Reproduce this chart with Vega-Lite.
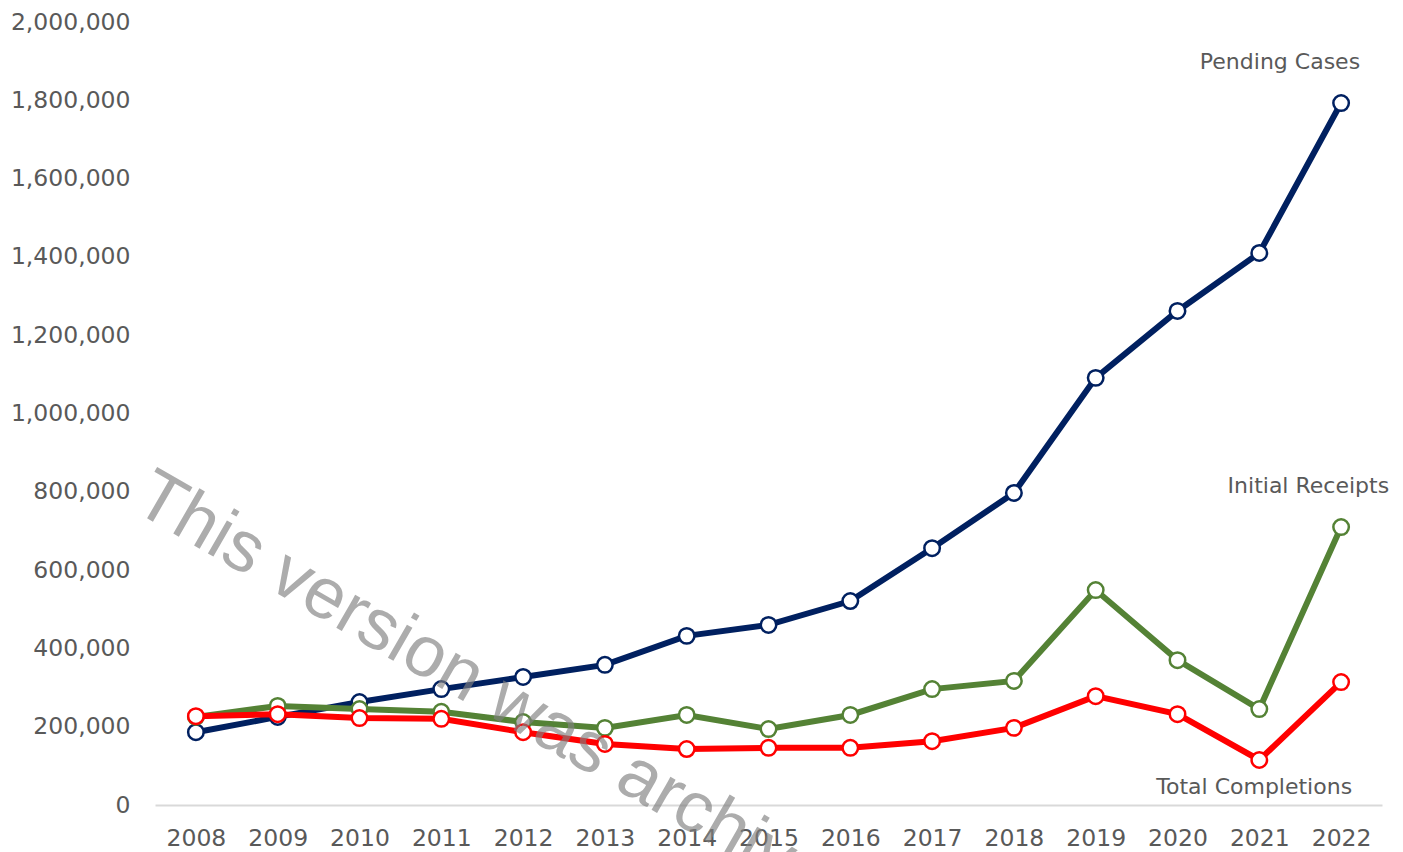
{
  "$schema": "https://vega.github.io/schema/vega-lite/v6.json",
  "autosize": {"type": "none"},
  "width": 1227,
  "height": 783,
  "padding": {"left": 155, "top": 22, "right": 21, "bottom": 47},
  "background": "white",
  "config": {
    "view": {"stroke": null},
    "font": "DejaVu Sans"
  },
  "data": {
    "values": [
      {"year": "2008", "series": "Pending Cases", "value": 186000},
      {"year": "2009", "series": "Pending Cases", "value": 225000},
      {"year": "2010", "series": "Pending Cases", "value": 263000},
      {"year": "2011", "series": "Pending Cases", "value": 296000},
      {"year": "2012", "series": "Pending Cases", "value": 327000},
      {"year": "2013", "series": "Pending Cases", "value": 358000},
      {"year": "2014", "series": "Pending Cases", "value": 432000},
      {"year": "2015", "series": "Pending Cases", "value": 460000},
      {"year": "2016", "series": "Pending Cases", "value": 521000},
      {"year": "2017", "series": "Pending Cases", "value": 656000},
      {"year": "2018", "series": "Pending Cases", "value": 797000},
      {"year": "2019", "series": "Pending Cases", "value": 1091000},
      {"year": "2020", "series": "Pending Cases", "value": 1262000},
      {"year": "2021", "series": "Pending Cases", "value": 1410000},
      {"year": "2022", "series": "Pending Cases", "value": 1793000},
      {"year": "2008", "series": "Initial Receipts", "value": 225000},
      {"year": "2009", "series": "Initial Receipts", "value": 253000},
      {"year": "2010", "series": "Initial Receipts", "value": 245000},
      {"year": "2011", "series": "Initial Receipts", "value": 238000},
      {"year": "2012", "series": "Initial Receipts", "value": 212000},
      {"year": "2013", "series": "Initial Receipts", "value": 197000},
      {"year": "2014", "series": "Initial Receipts", "value": 230000},
      {"year": "2015", "series": "Initial Receipts", "value": 194000},
      {"year": "2016", "series": "Initial Receipts", "value": 230000},
      {"year": "2017", "series": "Initial Receipts", "value": 296000},
      {"year": "2018", "series": "Initial Receipts", "value": 317000},
      {"year": "2019", "series": "Initial Receipts", "value": 549000},
      {"year": "2020", "series": "Initial Receipts", "value": 370000},
      {"year": "2021", "series": "Initial Receipts", "value": 245000},
      {"year": "2022", "series": "Initial Receipts", "value": 710000},
      {"year": "2008", "series": "Total Completions", "value": 227000},
      {"year": "2009", "series": "Total Completions", "value": 232000},
      {"year": "2010", "series": "Total Completions", "value": 222000},
      {"year": "2011", "series": "Total Completions", "value": 220000},
      {"year": "2012", "series": "Total Completions", "value": 186000},
      {"year": "2013", "series": "Total Completions", "value": 156000},
      {"year": "2014", "series": "Total Completions", "value": 143000},
      {"year": "2015", "series": "Total Completions", "value": 146000},
      {"year": "2016", "series": "Total Completions", "value": 146000},
      {"year": "2017", "series": "Total Completions", "value": 163000},
      {"year": "2018", "series": "Total Completions", "value": 197000},
      {"year": "2019", "series": "Total Completions", "value": 278000},
      {"year": "2020", "series": "Total Completions", "value": 232000},
      {"year": "2021", "series": "Total Completions", "value": 115000},
      {"year": "2022", "series": "Total Completions", "value": 314000}
    ]
  },
  "encoding": {
    "x": {
      "field": "year", "type": "ordinal",
      "scale": {"type": "point", "padding": 0.5},
      "axis": {
        "title": null, "labelAngle": 0, "ticks": false, "tickSize": 0,
        "domainColor": "#d9d9d9", "domainWidth": 2,
        "labelFont": "DejaVu Sans", "labelFontSize": 23.5, "labelColor": "#595959",
        "labelPadding": 21, "labelBaseline": "top", "grid": false
      }
    },
    "y": {
      "field": "value", "type": "quantitative",
      "scale": {"domain": [0, 2000000], "nice": false, "zero": true},
      "axis": {
        "title": null, "domain": false, "ticks": false, "tickSize": 0, "grid": false,
        "values": [0, 200000, 400000, 600000, 800000, 1000000, 1200000, 1400000, 1600000, 1800000, 2000000],
        "format": ",d",
        "labelFont": "DejaVu Sans", "labelFontSize": 23.5, "labelColor": "#595959",
        "labelPadding": 25, "labelBaseline": "middle"
      }
    }
  },
  "layer": [
    {
      "transform": [{"filter": "datum.series === 'Pending Cases'"}],
      "mark": {"type": "line", "color": "#002060", "strokeWidth": 6}
    },
    {
      "transform": [{"filter": "datum.series === 'Pending Cases'"}],
      "mark": {"type": "point", "shape": "circle", "filled": true, "fill": "white", "stroke": "#002060", "strokeWidth": 2.5, "size": 240, "opacity": 1}
    },
    {
      "transform": [{"filter": "datum.series === 'Initial Receipts'"}],
      "mark": {"type": "line", "color": "#548235", "strokeWidth": 6}
    },
    {
      "transform": [{"filter": "datum.series === 'Initial Receipts'"}],
      "mark": {"type": "point", "shape": "circle", "filled": true, "fill": "white", "stroke": "#548235", "strokeWidth": 2.5, "size": 240, "opacity": 1}
    },
    {
      "transform": [{"filter": "datum.series === 'Total Completions'"}],
      "mark": {"type": "line", "color": "#ff0000", "strokeWidth": 6}
    },
    {
      "transform": [{"filter": "datum.series === 'Total Completions'"}],
      "mark": {"type": "point", "shape": "circle", "filled": true, "fill": "white", "stroke": "#ff0000", "strokeWidth": 2.5, "size": 240, "opacity": 1}
    },
    {
      "transform": [{"filter": "datum.series === 'Pending Cases' && datum.year === '2022'"}],
      "mark": {"type": "text", "align": "right", "baseline": "middle", "dx": 19, "dy": -41, "font": "DejaVu Sans", "fontSize": 22, "color": "#595959"},
      "encoding": {"text": {"field": "series"}}
    },
    {
      "transform": [{"filter": "datum.series === 'Initial Receipts' && datum.year === '2022'"}],
      "mark": {"type": "text", "align": "right", "baseline": "middle", "dx": 48, "dy": -41, "font": "DejaVu Sans", "fontSize": 22, "color": "#595959"},
      "encoding": {"text": {"field": "series"}}
    },
    {
      "transform": [{"filter": "datum.series === 'Total Completions' && datum.year === '2022'"}],
      "mark": {"type": "text", "align": "right", "baseline": "middle", "dx": 11, "dy": 105, "font": "DejaVu Sans", "fontSize": 22, "color": "#595959"},
      "encoding": {"text": {"field": "series"}}
    },
    {
      "data": {"values": [{"year": "2008", "value": 660000, "label": "This version was archived"}]},
      "mark": {"type": "text", "align": "left", "baseline": "alphabetic", "angle": 30, "dx": -75, "font": "Liberation Sans", "fontSize": 72, "color": "#808080", "opacity": 0.65},
      "encoding": {"text": {"field": "label"}}
    }
  ]
}
